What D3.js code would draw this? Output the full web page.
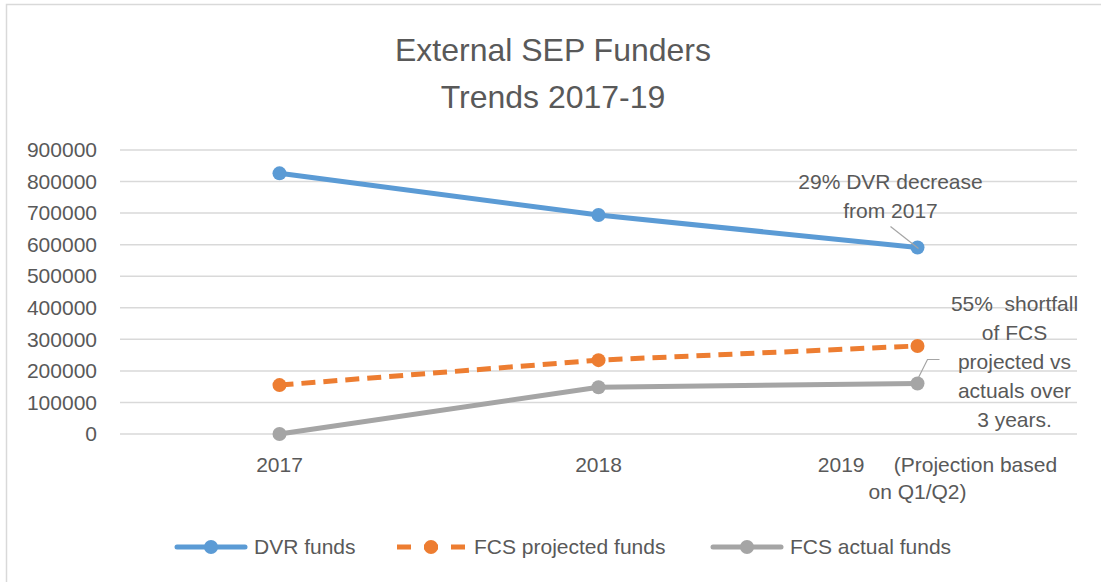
<!DOCTYPE html>
<html>
<head>
<meta charset="utf-8">
<script src="https://cdn.jsdelivr.net/npm/d3@7"></script>
<style>
  body { margin: 0; background: #fff; }
  text { font-family: "Liberation Sans", Arial, sans-serif; fill: #595959; }
</style>
</head>
<body>
<script>

// chart data
var years = ["2017", "2018", "2019"]
var yearLabels = [["2017"], ["2018"], ["2019     (Projection based", "on Q1/Q2)"]]
var dvrFunds = [826000, 694000, 591000]
var fcsProjected = [155000, 234000, 279000]
var fcsActual = [0, 148000, 160000]
var yTicks = [0, 100000, 200000, 300000, 400000, 500000, 600000, 700000, 800000, 900000]
var titleLines = ["External SEP Funders", "Trends 2017-19"]
var dvrNote = ["29% DVR decrease", "from 2017"]
var fcsNote = ["55%  shortfall", "of FCS", "projected vs", "actuals over", "3 years."]

var series = [
  {name: "DVR funds", values: dvrFunds, color: "#5B9BD5", dash: null},
  {name: "FCS projected funds", values: fcsProjected, color: "#ED7D31", dash: "14,8"},
  {name: "FCS actual funds", values: fcsActual, color: "#A5A5A5", dash: null}
]

var width = 1101
var height = 582

var svg = d3.select("body")
            .append("svg")
            .attr("width", width)
            .attr("height", height)

// chart border
svg.append("rect")
   .attr("x", 6.5)
   .attr("y", 4.5)
   .attr("width", width + 20)
   .attr("height", height + 20)
   .style("fill", "none")
   .style("stroke", "#D9D9D9")
   .style("stroke-width", 1.5)

// scales
var x = d3.scalePoint()
          .domain(years)
          .range([120, 1077])
          .padding(0.5)

var y = d3.scaleLinear()
          .domain([0, 900000])
          .range([434, 150])

// title
svg.append("g")
   .selectAll("text")
   .data(titleLines)
   .enter().append("text")
   .attr("x", 553)
   .attr("y", function(d, i) { return 61 + i * 47 })
   .attr("text-anchor", "middle")
   .style("font-size", "32px")
   .text(function(d) { return d })

// gridlines
svg.append("g")
   .selectAll("line")
   .data(yTicks)
   .enter().append("line")
   .attr("x1", 120)
   .attr("x2", 1077)
   .attr("y1", function(d) { return y(d) })
   .attr("y2", function(d) { return y(d) })
   .style("stroke", "#D9D9D9")
   .style("stroke-width", 1.5)

// y axis labels
var yAxis = d3.axisLeft(y).tickValues(yTicks).tickFormat(d3.format("d")).tickSize(0).tickPadding(0)
var yg = svg.append("g")
   .attr("transform", "translate(97,0)")
   .call(yAxis)
yg.select(".domain").remove()
yg.selectAll("text")
  .style("font-size", "21px")
  .style("font-family", null)
  .attr("fill", null)

// x axis labels
var xg = svg.append("g")
xg.selectAll("text")
  .data(years)
  .enter().append("text")
  .attr("x", function(d) { return x(d) })
  .attr("y", 472)
  .attr("text-anchor", "middle")
  .style("font-size", "21px")
  .style("white-space", "pre")
  .each(function(d, i) {
    var t = d3.select(this)
    yearLabels[i].forEach(function(line, j) {
      t.append("tspan")
       .attr("x", x(d) + (yearLabels[i].length > 1 && j == 0 ? 20 : 0))
       .attr("y", 472 + j * 27)
       .text(line)
    })
  })

// lines
var line = d3.line()
             .x(function(d, i) { return x(years[i]) })
             .y(function(d) { return y(d) })

series.forEach(function(s) {
  svg.append("path")
     .datum(s.values)
     .attr("d", line)
     .style("fill", "none")
     .style("stroke", s.color)
     .style("stroke-width", 5)
     .style("stroke-dasharray", s.dash)
     .style("stroke-linejoin", "round")

  svg.append("g")
     .selectAll("circle")
     .data(s.values)
     .enter().append("circle")
     .attr("cx", function(d, i) { return x(years[i]) })
     .attr("cy", function(d) { return y(d) })
     .attr("r", 7)
     .style("fill", s.color)
})

// annotation for dvr
var dvrX = x(years[2])
var dvrY = y(dvrFunds[2])
svg.append("path")
   .attr("d", "M" + (dvrX - 27) + "," + (dvrY - 21) + "L" + (dvrX + 1) + "," + (dvrY + 1))
   .style("stroke", "#A5A5A5")
   .style("stroke-width", 1.2)
   .style("fill", "none")
svg.append("g")
   .selectAll("text")
   .data(dvrNote)
   .enter().append("text")
   .attr("x", dvrX - 27)
   .attr("y", function(d, i) { return dvrY - 59 + i * 29 })
   .attr("text-anchor", "middle")
   .style("font-size", "21px")
   .text(function(d) { return d })

// annotation for fcs shortfall
var fcsX = x(years[2])
var fcsY = y(fcsActual[2])
svg.append("path")
   .attr("d", "M" + (fcsX + 22) + "," + (fcsY - 24) + "H" + (fcsX + 10) + "L" + (fcsX + 1) + "," + (fcsY - 6))
   .style("stroke", "#A5A5A5")
   .style("stroke-width", 1.2)
   .style("fill", "none")
svg.append("g")
   .selectAll("text")
   .data(fcsNote)
   .enter().append("text")
   .attr("x", fcsX + 97)
   .attr("y", function(d, i) { return 311 + i * 29 })
   .attr("text-anchor", "middle")
   .style("font-size", "21px")
   .style("white-space", "pre")
   .text(function(d) { return d })

// legend
var legendX = [177, 397, 713]
var legend = svg.append("g")
                .selectAll("g")
                .data(series)
                .enter().append("g")
                .attr("transform", function(d, i) { return "translate(" + legendX[i] + ",547)" })

legend.append("line")
      .attr("x1", 0)
      .attr("x2", 68)
      .style("stroke", function(d) { return d.color })
      .style("stroke-width", 5)
      .style("stroke-linecap", function(d) { return d.dash ? "butt" : "round" })
      .style("stroke-dasharray", function(d) { return d.dash ? "14,13,14,13,14" : null })

legend.append("circle")
      .attr("cx", 34)
      .attr("r", 7)
      .style("fill", function(d) { return d.color })

legend.append("text")
      .attr("x", 77)
      .attr("dy", "0.35em")
      .style("font-size", "21px")
      .text(function(d) { return d.name })

</script>
</body>
</html>
